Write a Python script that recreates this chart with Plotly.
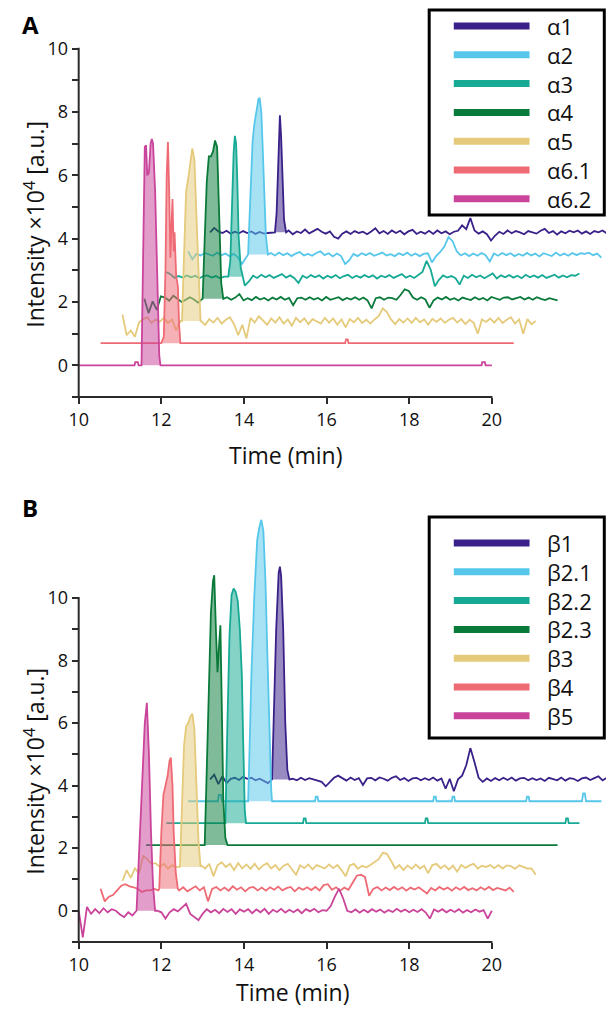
import plotly.graph_objects as go

# ---------------- data (raw chromatograms, intensity in 10^4 a.u.) ----------------
TIME_GRID = [10.0, 10.1, 10.2, 10.3, 10.4, 10.5, 10.6, 10.7, 10.8, 10.9,
             11.0, 11.1, 11.2, 11.3, 11.4, 11.5, 11.6, 11.7, 11.8, 11.9,
             12.0, 12.1, 12.2, 12.3, 12.4, 12.5, 12.6, 12.7, 12.8, 12.9,
             13.0, 13.1, 13.2, 13.3, 13.4, 13.5, 13.6, 13.7, 13.8, 13.9,
             14.0, 14.1, 14.2, 14.3, 14.4, 14.5, 14.6, 14.7, 14.8, 14.9,
             15.0, 15.1, 15.2, 15.3, 15.4, 15.5, 15.6, 15.7, 15.8, 15.9,
             16.0, 16.1, 16.2, 16.3, 16.4, 16.5, 16.6, 16.7, 16.8, 16.9,
             17.0, 17.1, 17.2, 17.3, 17.4, 17.5, 17.6, 17.7, 17.8, 17.9,
             18.0, 18.1, 18.2, 18.3, 18.4, 18.5, 18.6, 18.7, 18.8, 18.9,
             19.0, 19.1, 19.2, 19.3, 19.4, 19.5, 19.6, 19.7, 19.8, 19.9,
             20.0]

# ---- panel A ----
A1_V = [0.00, 0.14, 0.03, -0.02, 0.05, -0.04, 0.02, -0.03, 0.04, -0.02,
        0.03, -0.05, 0.01, -0.04, -0.02, 0.0, 0.0, 0.0, 0.0, 0.06,
        -0.06, 0.03, -0.02, 0.09, -0.03, 0.05, 0.11, 0.02, -0.04, 0.03,
        -0.14, -0.2, -0.04, 0.03, -0.05, 0.04, -0.02, 0.02, -0.06, 0.03,
        0.13, -0.03, 0.04, -0.05, 0.06, -0.02, 0.05, -0.06, 0.03, 0.08,
        -0.05, 0.02, -0.04, 0.05, -0.05, 0.06, -0.03, 0.03, -0.06, 0.02,
        0.05, 0.22, 0.1, 0.45, 0.06, -0.04, 0.03, -0.06, -0.26, -0.1,
        0.02, -0.05, 0.06, -0.03, 0.04, 0.0, -0.06, 0.04, 0.01, -0.04,
        0.05, 0.11, -0.02, 0.04, -0.07, 0.03, -0.03, 0.05, 0.0, 0.06,
        -0.04, 0.03, -0.05, 0.04, 0.0, 0.06, -0.03, 0.03, -0.05, 0.04,
        0.0]
A1_PEAK_T = [11.57, 11.61, 11.64, 11.67, 11.69, 11.72, 11.75, 11.79, 11.84]
A1_PEAK_V = [0.0, 0.6, 1.9, 3.2, 3.7, 3.0, 1.5, 0.4, 0.0]

A2_V = [0.10, -0.15, 0.02, -0.03, 0.05, 0.0, -0.04, 0.06, -0.02, 0.03,
        -0.05, 0.02, -0.08, -0.3, -0.1, 0.0, 0.0, 0.0, 0.0, 0.0,
        0.05, -0.03, 0.06, -0.02, 0.04, -0.05, 0.03, 0.08, -0.03, 0.02,
        -0.04, 0.05, 0.1, -0.02, 0.04, -0.06, 0.03, -0.05, -0.3, -0.18,
        0.02, -0.05, 0.04, -0.02, 0.05, -0.04, 0.02, 0.06, -0.03, 0.01,
        -0.05, 0.04, -0.02, 0.06, -0.04, 0.03, -0.05, 0.02, 0.04, -0.25,
        -0.05, 0.08, 0.25, 0.55, 0.42, 0.1, -0.03, 0.04, -0.05, 0.03,
        -0.04, 0.05, -0.02, -0.22, 0.03, -0.04, 0.05, -0.02, 0.04, -0.05,
        0.02, -0.04, 0.05, -0.03, 0.03, -0.06, 0.04, 0.0, -0.05, 0.06,
        -0.03, 0.03, -0.04, 0.05, -0.02, 0.04, 0.02, 0.06, -0.02, 0.03,
        -0.1]
A2_PEAK_T = [11.45, 11.48, 11.52, 11.56, 11.6, 11.65, 11.7, 11.73, 11.77, 11.8, 11.84, 11.88, 11.93]
A2_PEAK_V = [0.0, 1.0, 2.6, 3.6, 4.1, 4.5, 4.9, 4.95, 4.5, 3.5, 2.0, 0.6, 0.0]

A3_V = [0.15, 0.08, -0.04, 0.02, -0.03, 0.04, -0.02, 0.03, -0.05, 0.02,
        0.04, -0.03, 0.02, -0.05, 0.0, 0.0, 0.0, 0.0, 0.0, -0.28,
        -0.15, 0.03, -0.04, 0.06, -0.02, 0.05, -0.04, 0.03, 0.08, -0.03,
        0.04, -0.05, -0.2, 0.03, -0.04, 0.05, -0.02, 0.04, -0.06, 0.03,
        -0.03, 0.05, -0.05, 0.02, 0.06, -0.04, 0.03, -0.03, 0.05, -0.02,
        0.04, -0.06, 0.03, -0.02, 0.05, -0.04, 0.02, 0.08, -0.03, 0.03,
        -0.04, 0.05, 0.15, 0.5, 0.22, -0.3, -0.1, 0.04, -0.03, 0.02,
        -0.05, -0.25, 0.03, -0.04, 0.06, -0.02, 0.04, -0.05, 0.03, 0.1,
        -0.06, 0.04, -0.02, 0.05, -0.03, 0.03, -0.05, 0.06, -0.02, 0.04,
        -0.03, 0.05, -0.04, 0.02, 0.06, -0.03, 0.04, -0.02, 0.05, 0.03,
        0.1]
A3_PEAK_T = [11.5, 11.55, 11.6, 11.63, 11.66, 11.69, 11.72, 11.75, 11.8, 11.85]
A3_PEAK_V = [0.0, 0.5, 2.7, 3.9, 4.45, 4.2, 3.0, 1.3, 0.3, 0.0]

A4_V = [0.0, -0.45, -0.08, -0.35, 0.08, 0.04, -0.06, 0.1, 0.0, -0.1,
        -0.03, 0.05, -0.02, -0.12, 0.0, 0.0, 0.0, 0.0, 0.0, -0.05,
        0.05, -0.03, 0.04, 0.15, -0.05, 0.02, -0.04, 0.06, -0.02, 0.03,
        -0.05, 0.04, -0.02, 0.06, -0.03, 0.03, -0.2, 0.02, 0.04, -0.03,
        0.05, -0.02, 0.03, -0.05, 0.06, -0.03, 0.02, 0.05, -0.04, 0.03,
        -0.02, 0.05, -0.03, 0.04, -0.05, -0.3, 0.02, 0.05, -0.03, 0.04,
        0.02, -0.03, 0.12, 0.3, 0.25, 0.04, -0.03, 0.05, -0.02, -0.28,
        -0.05, 0.04, -0.02, 0.06, -0.03, 0.02, -0.05, 0.04, 0.0, -0.04,
        0.05, -0.02, 0.03, -0.05, 0.06, 0.02, -0.03, 0.04, 0.05, -0.02,
        0.03, 0.06, -0.02, 0.04, -0.03, 0.05, 0.0, -0.04, 0.02, -0.02,
        -0.05]
A4_PEAK_T = [11.41, 11.46, 11.51, 11.56, 11.61, 11.66, 11.71, 11.76, 11.81, 11.86, 11.91]
A4_PEAK_V = [0.0, 1.9, 3.7, 4.5, 4.5, 4.65, 5.0, 4.8, 2.4, 0.5, 0.0]

A5_V = [0.2, -0.45, -0.3, -0.5, -0.05, 0.06, 0.12, -0.06, 0.05, -0.03,
        0.1, -0.06, 0.05, -0.3, 0.0, 0.0, 0.0, 0.0, 0.0, 0.0,
        -0.12, 0.06, -0.05, 0.1, -0.08, 0.04, 0.12, -0.1, -0.45, -0.12,
        -0.55, 0.1, -0.05, 0.15, 0.02, -0.12, 0.08, -0.05, 0.12, -0.08,
        0.05, -0.15, 0.1, -0.04, 0.08, -0.1, 0.06, 0.0, -0.08, 0.1,
        -0.05, 0.08, -0.12, 0.05, -0.2, 0.06, -0.04, 0.1, -0.06, 0.04,
        -0.08, 0.05, 0.15, 0.4, 0.28, 0.05, -0.1, 0.06, -0.05, 0.08,
        -0.06, 0.1, -0.04, 0.05, -0.12, 0.07, -0.03, 0.08, -0.06, 0.04,
        0.1, -0.05, 0.06, -0.1, 0.04, -0.06, -0.4, 0.05, -0.03, 0.08,
        -0.05, 0.1, -0.06, 0.04, 0.12, -0.08, 0.05, -0.4, 0.06, -0.1,
        0.0]
A5_PEAK_T = [11.44, 11.49, 11.54, 11.59, 11.64, 11.69, 11.74, 11.79, 11.84, 11.89]
A5_PEAK_V = [0.0, 2.1, 4.1, 4.5, 5.0, 5.45, 5.1, 3.6, 1.6, 0.0]

A61_T = [10.0, 15.92, 15.94, 15.98, 16.0, 20.0]
A61_V = [0.0, 0.0, 0.12, 0.12, 0.0, 0.0]
A61_PEAK_T = [11.47, 11.53, 11.57, 11.6, 11.63, 11.66, 11.69, 11.72, 11.74, 11.77, 11.79, 11.83, 11.87, 11.9, 11.93]
A61_PEAK_V = [0.0, 0.2, 2.3, 5.3, 6.35, 4.8, 2.7, 3.8, 4.55, 2.9, 3.5, 2.1, 1.8, 0.6, 0.0]

A62_T = [10.0, 11.35, 11.37, 11.43, 11.45, 19.75, 19.77, 19.83, 19.85, 20.0]
A62_V = [0.0, 0.0, 0.1, 0.1, 0.0, 0.0, 0.1, 0.1, 0.0, 0.0]
A62_PEAK_T = [11.52, 11.56, 11.6, 11.63, 11.66, 11.7, 11.74, 11.77, 11.8, 11.85, 11.9, 11.95, 11.98]
A62_PEAK_V = [0.0, 3.5, 6.9, 6.95, 6.0, 6.1, 7.0, 7.15, 7.0, 5.5, 2.5, 0.3, 0.0]

# ---- panel B ----
B1_V = [0.0, 0.15, -0.15, 0.1, -0.12, 0.02, 0.05, -0.02, 0.08, 0.02,
        0.05, -0.03, 0.02, -0.05, -0.12, 0.0, 0.0, 0.0, 0.0, 0.0,
        0.02, -0.03, 0.05, -0.02, 0.04, 0.0, -0.04, -0.08, -0.22, -0.1,
        0.05, 0.12, 0.03, -0.04, 0.06, -0.02, 0.04, -0.18, 0.03, 0.05,
        -0.03, 0.06, 0.02, -0.04, 0.05, 0.1, -0.02, 0.04, -0.05, 0.03,
        0.05, -0.03, 0.04, -0.02, 0.06, -0.04, 0.03, -0.3, 0.02, -0.38,
        0.0, 0.12, 0.45, 1.0, 0.55, 0.05, -0.08, 0.03, -0.05, 0.04,
        -0.03, 0.05, -0.02, 0.06, -0.04, 0.03, 0.05, -0.03, 0.04, -0.02,
        0.03, -0.05, 0.05, 0.02, -0.03, 0.06, -0.04, 0.04, 0.02, -0.05,
        0.03, 0.06, -0.02, 0.04, 0.1, -0.03, 0.05, 0.02, -0.04, -0.2,
        0.0]
B1_PEAK_T = [11.5, 11.54, 11.6, 11.66, 11.69, 11.72, 11.77, 11.82, 11.87, 11.92]
B1_PEAK_V = [0.0, 1.8, 4.8, 6.6, 6.8, 6.5, 4.8, 1.8, 0.3, 0.0]

B21_T = [10.0, 10.72, 10.74, 10.8, 10.82, 13.07, 13.09, 13.13, 13.15, 15.93, 15.95, 15.99, 16.01,
         16.38, 16.4, 16.44, 16.46, 18.18, 18.2, 18.24, 18.26, 19.53, 19.56, 19.6, 19.63, 20.0]
B21_V = [0.0, 0.0, 0.2, 0.2, 0.0, 0.0, 0.15, 0.15, 0.0, 0.0, 0.15, 0.15, 0.0,
         0.0, 0.15, 0.15, 0.0, 0.0, 0.15, 0.15, 0.0, 0.0, 0.25, 0.25, 0.0, 0.0]
B21_PEAK_T = [11.45, 11.47, 11.53, 11.6, 11.67, 11.72, 11.77, 11.82, 11.87, 11.92, 11.97, 12.01, 12.03]
B21_PEAK_V = [0.0, 0.85, 4.05, 6.55, 8.35, 8.75, 9.0, 8.65, 7.05, 4.55, 2.05, 0.35, 0.0]

B22_T = [10.0, 13.31, 13.33, 13.37, 13.39, 16.26, 16.28, 16.32, 16.34, 19.66, 19.68, 19.72, 19.74, 20.0]
B22_V = [0.0, 0.0, 0.15, 0.15, 0.0, 0.0, 0.15, 0.15, 0.0, 0.0, 0.15, 0.15, 0.0, 0.0]
B22_PEAK_T = [11.43, 11.48, 11.53, 11.58, 11.63, 11.68, 11.73, 11.78, 11.83, 11.86, 11.9, 11.93]
B22_PEAK_V = [0.0, 3.2, 6.0, 7.3, 7.5, 7.4, 7.1, 6.2, 4.7, 2.7, 0.4, 0.0]

B23_T = [10.04, 20.0]
B23_V = [0.0, 0.0]
B23_PEAK_T = [11.46, 11.51, 11.56, 11.61, 11.66, 11.69, 11.73, 11.77, 11.81, 11.84, 11.88, 11.91, 11.96, 12.01]
B23_PEAK_V = [0.0, 2.43, 5.43, 7.43, 8.43, 8.63, 6.93, 5.53, 6.43, 7.03, 3.93, 1.43, 0.23, 0.0]

B3_V = [-0.45, -0.1, -0.35, -0.05, -0.2, 0.35, 0.25, 0.1, 0.12, 0.0,
        0.1, -0.05, 0.05, 0.0, 0.0, 0.0, 0.0, 0.0, 0.0, 0.05,
        -0.05, 0.1, -0.3, 0.05, 0.15, 0.0, 0.1, -0.1, 0.12, -0.05,
        0.08, -0.06, 0.1, -0.08, 0.05, 0.12, -0.05, 0.06, -0.1, 0.04,
        0.1, -0.06, -0.25, 0.05, -0.04, 0.08, -0.08, 0.06, 0.0, -0.05,
        0.08, -0.04, 0.06, -0.1, -0.3, 0.05, 0.1, -0.06, 0.04, -0.02,
        0.06, 0.15, 0.25, 0.45, 0.42, 0.2, -0.05, 0.06, -0.1, 0.05,
        -0.06, 0.08, -0.05, 0.04, -0.2, 0.06, 0.1, -0.04, 0.05, -0.08,
        0.04, -0.15, 0.06, -0.03, 0.05, 0.1, -0.05, 0.04, 0.0, 0.06,
        -0.04, 0.06, -0.05, 0.05, 0.03, -0.06, 0.05, 0.0, -0.05, -0.05,
        -0.25]
B3_PEAK_T = [11.39, 11.44, 11.49, 11.54, 11.59, 11.64, 11.69, 11.74, 11.79, 11.84, 11.89]
B3_PEAK_V = [0.0, 2.1, 3.9, 4.5, 4.6, 4.8, 4.9, 4.4, 2.6, 0.8, 0.0]

B4_V = [0.0, -0.4, -0.25, -0.2, -0.05, 0.1, 0.15, 0.08, 0.05, 0.0,
        -0.1, -0.05, -0.05, 0.0, -0.05, 0.0, 0.0, 0.0, 0.0, -0.05,
        0.05, -0.08, 0.0, 0.08, -0.05, 0.05, -0.4, 0.0, 0.06, -0.05,
        0.04, -0.06, 0.08, -0.03, 0.05, -0.08, 0.03, 0.06, -0.05, 0.04,
        -0.06, 0.05, -0.03, 0.07, -0.05, 0.02, 0.06, -0.08, 0.04, -0.03,
        0.05, -0.04, 0.06, -0.05, 0.12, 0.15, -0.03, 0.05, -0.06, 0.04,
        -0.03, 0.2, 0.42, 0.45, 0.38, -0.22, 0.0, 0.06, -0.05, 0.04,
        -0.04, 0.06, -0.03, 0.05, -0.06, 0.04, -0.02, 0.05, -0.04, -0.15,
        0.03, -0.05, 0.06, -0.02, 0.04, -0.06, 0.05, -0.03, 0.06, -0.04,
        0.02, -0.05, 0.05, -0.03, 0.06, -0.04, 0.03, 0.0, -0.05, 0.04,
        -0.1]
B4_PEAK_T = [11.42, 11.47, 11.52, 11.57, 11.62, 11.67, 11.7, 11.74, 11.77, 11.82, 11.87]
B4_PEAK_V = [0.0, 1.8, 3.0, 3.3, 3.6, 4.1, 4.2, 3.3, 1.8, 0.5, 0.0]

B5_V = [0.0, -0.85, 0.12, -0.1, 0.05, -0.08, 0.08, -0.05, 0.05, 0.0,
        -0.12, -0.2, -0.05, -0.15, 0.0, 0.0, 0.0, 0.0, 0.0, 0.0,
        -0.05, -0.25, -0.05, 0.05, -0.02, 0.1, 0.22, -0.1, -0.2, -0.3,
        -0.1, 0.05, -0.05, 0.03, -0.08, 0.06, -0.04, 0.05, -0.1, 0.04,
        -0.03, 0.05, -0.08, 0.04, -0.05, 0.06, -0.1, 0.03, -0.04, 0.06,
        -0.06, 0.03, -0.05, 0.04, -0.08, 0.05, -0.02, 0.06, -0.05, 0.02,
        0.0, 0.15, 0.45, 0.7, 0.4, 0.0, -0.05, 0.04, -0.06, 0.03,
        -0.05, 0.05, -0.03, 0.04, -0.06, 0.02, -0.04, 0.06, -0.03, 0.04,
        -0.05, 0.03, -0.04, 0.05, -0.06, -0.25, 0.04, -0.03, 0.05, -0.05,
        0.03, -0.04, 0.05, -0.06, 0.02, -0.05, 0.04, -0.03, 0.02, -0.25,
        0.0]
B5_PEAK_T = [11.4, 11.45, 11.5, 11.55, 11.6, 11.65, 11.7, 11.75, 11.8, 11.85]
B5_PEAK_V = [0.0, 1.5, 3.0, 4.5, 6.0, 6.65, 5.0, 2.5, 0.8, 0.0]

NAMES_A = ["α1", "α2", "α3", "α4", "α5", "α6.1", "α6.2"]
NAMES_B = ["β1", "β2.1", "β2.2", "β2.3", "β3", "β4", "β5"]
COLORS = ["#3a2189", "#56c7ea", "#16a994", "#0a7a3b", "#e5ca7b", "#ee6a74", "#c9449a"]

X_TICKS = [10, 12, 14, 16, 18, 20]
Y_TICKS = [0, 2, 4, 6, 8, 10]
Y_MINOR_TICKS = [-1, 1, 3, 5, 7, 9]

# waterfall offsets between successive traces
X_STEP = 0.53
Y_STEP = 0.70

SERIES_A = [
    (TIME_GRID, A1_V, A1_PEAK_T, A1_PEAK_V),
    (TIME_GRID, A2_V, A2_PEAK_T, A2_PEAK_V),
    (TIME_GRID, A3_V, A3_PEAK_T, A3_PEAK_V),
    (TIME_GRID, A4_V, A4_PEAK_T, A4_PEAK_V),
    (TIME_GRID, A5_V, A5_PEAK_T, A5_PEAK_V),
    (A61_T, A61_V, A61_PEAK_T, A61_PEAK_V),
    (A62_T, A62_V, A62_PEAK_T, A62_PEAK_V),
]
SERIES_B = [
    (TIME_GRID, B1_V, B1_PEAK_T, B1_PEAK_V),
    (B21_T, B21_V, B21_PEAK_T, B21_PEAK_V),
    (B22_T, B22_V, B22_PEAK_T, B22_PEAK_V),
    (B23_T, B23_V, B23_PEAK_T, B23_PEAK_V),
    (TIME_GRID, B3_V, B3_PEAK_T, B3_PEAK_V),
    (TIME_GRID, B4_V, B4_PEAK_T, B4_PEAK_V),
    (TIME_GRID, B5_V, B5_PEAK_T, B5_PEAK_V),
]

# ---------------- layout geometry ----------------
W, H = 614, 1009
FONT = "Open Sans"
AX_COLOR = "#2b2b2b"
X_LEFT_PX = 61.7
X_PX_PER_MIN = 42.0
X_RANGE = [10, 10 + (W - X_LEFT_PX) / X_PX_PER_MIN]
X_DOMAIN = [X_LEFT_PX / W, 1.0]

# panel A: y=-1 at 389 px, y=10 at 40.7 px
YA_BOT, YA_TOP10 = 389.0, 40.7
YA_PPU = (YA_BOT - YA_TOP10) / 11
YA_RANGE = [-1, 10 + YA_TOP10 / YA_PPU]
YA_DOMAIN = [1 - YA_BOT / H, 1.0]
# panel B: y=-1 at 934 px, y=10 at 590 px
YB_BOT, YB_TOP10, YB_TOPPX = 934.0, 590.0, 500.0
YB_PPU = (YB_BOT - YB_TOP10) / 11
YB_RANGE = [-1, 10 + (YB_TOP10 - YB_TOPPX) / YB_PPU]
YB_DOMAIN = [1 - YB_BOT / H, 1 - YB_TOPPX / H]


def rgba(hex_color, a):
    h = hex_color.lstrip("#")
    return "rgba(%d,%d,%d,%.2f)" % (int(h[0:2], 16), int(h[2:4], 16), int(h[4:6], 16), a)


def build(base_t, base_v, peak_t, peak_v):
    lo, hi = peak_t[0], peak_t[-1]
    pts = [(t, v) for t, v in zip(base_t, base_v) if t < lo or t > hi]
    pts += list(zip(peak_t, peak_v))
    pts.sort()
    return [p[0] for p in pts], [p[1] for p in pts]


fig = go.Figure()


def add_panel(series, xa, ya):
    n = len(series)
    for i, (bt, bv, pt, pv) in enumerate(series):
        k = n - 1 - i
        dx, dy = k * X_STEP, k * Y_STEP
        col = COLORS[i]
        t, v = build(bt, bv, pt, pv)
        px = [x + dx for x in pt]
        py = [y + dy for y in pv]
        fig.add_trace(go.Scatter(
            x=px + [px[-1], px[0]], y=py + [dy, dy], mode="lines", fill="toself",
            fillcolor=rgba(col, 0.52), line=dict(width=0), hoverinfo="skip",
            showlegend=False, xaxis=xa, yaxis=ya))
        fig.add_trace(go.Scatter(
            x=[x + dx for x in t], y=[y + dy for y in v], mode="lines",
            line=dict(color=col, width=1.8), showlegend=False, xaxis=xa, yaxis=ya))


add_panel(SERIES_A, "x", "y")
add_panel(SERIES_B, "x2", "y2")


def xpaper(x):
    return X_DOMAIN[0] + (x - X_RANGE[0]) / (X_RANGE[1] - X_RANGE[0]) * (X_DOMAIN[1] - X_DOMAIN[0])


def ypaper(y, rng, dom):
    return dom[0] + (y - rng[0]) / (rng[1] - rng[0]) * (dom[1] - dom[0])


shapes = []
annotations = []
for rng, dom in [(YA_RANGE, YA_DOMAIN), (YB_RANGE, YB_DOMAIN)]:
    shapes.append(dict(type="line", xref="paper", yref="paper",
                       x0=xpaper(10) - 0.002, x1=xpaper(20) + 0.001,
                       y0=ypaper(-1, rng, dom), y1=ypaper(-1, rng, dom),
                       line=dict(color=AX_COLOR, width=2)))
    shapes.append(dict(type="line", xref="paper", yref="paper",
                       x0=xpaper(10), x1=xpaper(10),
                       y0=ypaper(-1, rng, dom), y1=ypaper(10, rng, dom) + 0.001,
                       line=dict(color=AX_COLOR, width=2)))

# legends (drawn as framed boxes)
LEG_X0, LEG_X1 = 418, 596
for names, top, bottom, row0 in [(NAMES_A, 2, 207, 18), (NAMES_B, 509, 730, 535)]:
    shapes.append(dict(type="rect", xref="paper", yref="paper",
                       x0=LEG_X0 / W, x1=LEG_X1 / W, y0=1 - bottom / H, y1=1 - top / H,
                       line=dict(color="black", width=3), fillcolor="white", layer="above"))
    for i, nm in enumerate(names):
        yy = 1 - (row0 + i * 28.8) / H
        shapes.append(dict(type="line", xref="paper", yref="paper",
                           x0=443 / W, x1=520 / W, y0=yy, y1=yy,
                           line=dict(color=COLORS[i], width=7), layer="above"))
        annotations.append(dict(x=536 / W, y=yy, xref="paper", yref="paper", text=nm,
                                showarrow=False, xanchor="left", yanchor="middle",
                                font=dict(family=FONT, size=22, color="#111")))

# axis titles and panel letters
for ycen, xcen, yt in [(216, 272, 447), (763, 279, 984)]:
    annotations.append(dict(x=17 / W, y=1 - ycen / H, xref="paper", yref="paper",
                            text="Intensity ×10<sup>4</sup> [a.u.]", textangle=-90,
                            showarrow=False, xanchor="center", yanchor="middle",
                            font=dict(family=FONT, size=23, color="#111")))
    annotations.append(dict(x=xcen / W, y=1 - yt / H, xref="paper", yref="paper",
                            text="Time (min)", showarrow=False, xanchor="center", yanchor="middle",
                            font=dict(family=FONT, size=23, color="#111")))
for letter, yc in [("A", 16), ("B", 499)]:
    annotations.append(dict(x=2 / W, y=1 - yc / H, xref="paper", yref="paper",
                            text="<b>%s</b>" % letter, showarrow=False,
                            xanchor="left", yanchor="middle",
                            font=dict(family=FONT, size=24, color="black")))

xcommon = dict(range=X_RANGE, domain=X_DOMAIN, tickvals=X_TICKS, ticks="outside",
               ticklen=6, tickwidth=2, tickcolor=AX_COLOR, showline=False, showgrid=False,
               zeroline=False, tickfont=dict(family=FONT, size=18, color="#111"))
ycommon = dict(tickvals=Y_TICKS, ticks="outside", ticklen=6,
               tickwidth=2, tickcolor=AX_COLOR, showline=False, showgrid=False,
               zeroline=False, tickfont=dict(family=FONT, size=18, color="#111"),
               minor=dict(tickmode="array", tickvals=Y_MINOR_TICKS, ticks="outside", ticklen=6,
                          tickwidth=2, tickcolor=AX_COLOR, showgrid=False))

fig.update_layout(
    width=W, height=H,
    margin=dict(l=0, r=0, t=0, b=0),
    paper_bgcolor="white", plot_bgcolor="white",
    showlegend=False,
    xaxis=dict(anchor="y", **xcommon),
    yaxis=dict(anchor="x", range=YA_RANGE, domain=YA_DOMAIN, **ycommon),
    xaxis2=dict(anchor="y2", **xcommon),
    yaxis2=dict(anchor="x2", range=YB_RANGE, domain=YB_DOMAIN, **ycommon),
    shapes=shapes,
    annotations=annotations,
    font=dict(family=FONT),
)

fig.write_html("out.html")
